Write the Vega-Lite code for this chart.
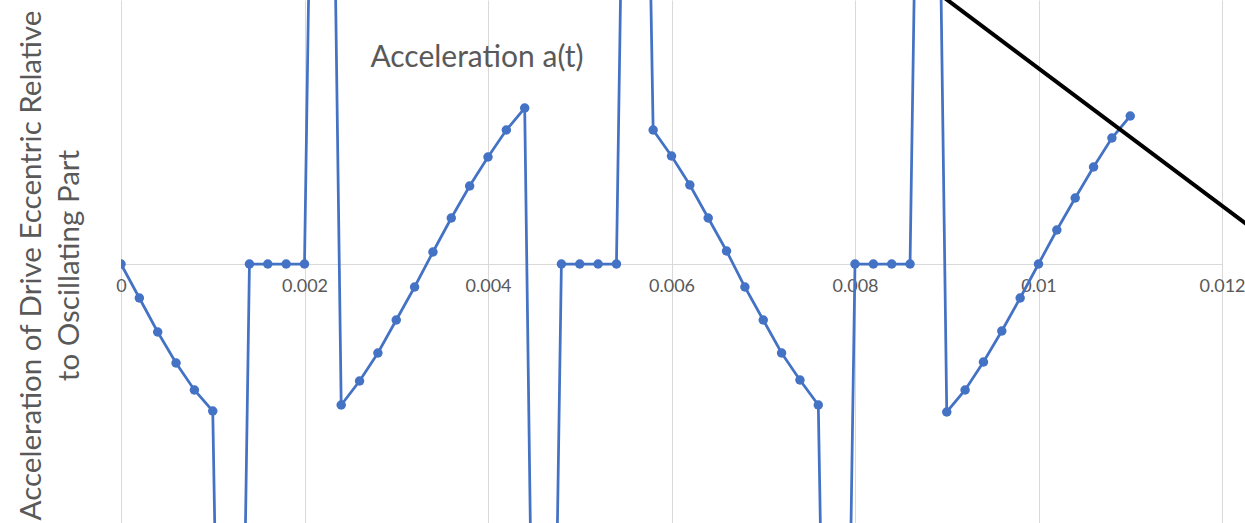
{
  "$schema": "https://vega.github.io/schema/vega-lite/v6.json",
  "width": 1101,
  "height": 523,
  "autosize": {"type": "none"},
  "padding": {"left": 121, "top": 0, "right": 23, "bottom": 0},
  "background": "white",
  "config": {"view": {"stroke": null}},
  "datasets": {
    "accel": [
      {"t": 0, "a": 0}, {"t": 0.0002, "a": -34}, {"t": 0.0004, "a": -68}, {"t": 0.0006, "a": -99},
      {"t": 0.0008, "a": -126}, {"t": 0.001, "a": -147}, {"t": 0.0012, "a": -1200}, {"t": 0.0014, "a": 0},
      {"t": 0.0016, "a": 0}, {"t": 0.0018, "a": 0}, {"t": 0.002, "a": 0}, {"t": 0.0022, "a": 1200},
      {"t": 0.0024, "a": -141}, {"t": 0.0026, "a": -117}, {"t": 0.0028, "a": -89}, {"t": 0.003, "a": -56},
      {"t": 0.0032, "a": -23}, {"t": 0.0034, "a": 12}, {"t": 0.0036, "a": 46}, {"t": 0.0038, "a": 78},
      {"t": 0.004, "a": 107}, {"t": 0.0042, "a": 134}, {"t": 0.0044, "a": 156}, {"t": 0.0046, "a": -1200},
      {"t": 0.0048, "a": 0}, {"t": 0.005, "a": 0}, {"t": 0.0052, "a": 0}, {"t": 0.0054, "a": 0},
      {"t": 0.0056, "a": 1200}, {"t": 0.0058, "a": 134}, {"t": 0.006, "a": 108}, {"t": 0.0062, "a": 79},
      {"t": 0.0064, "a": 46}, {"t": 0.0066, "a": 13}, {"t": 0.0068, "a": -23}, {"t": 0.007, "a": -56},
      {"t": 0.0072, "a": -89}, {"t": 0.0074, "a": -116}, {"t": 0.0076, "a": -141}, {"t": 0.0078, "a": -1200},
      {"t": 0.008, "a": 0}, {"t": 0.0082, "a": 0}, {"t": 0.0084, "a": 0}, {"t": 0.0086, "a": 0},
      {"t": 0.0088, "a": 1200}, {"t": 0.009, "a": -148}, {"t": 0.0092, "a": -126}, {"t": 0.0094, "a": -98},
      {"t": 0.0096, "a": -67}, {"t": 0.0098, "a": -34}, {"t": 0.01, "a": 0}, {"t": 0.0102, "a": 34},
      {"t": 0.0104, "a": 66}, {"t": 0.0106, "a": 97}, {"t": 0.0108, "a": 126}, {"t": 0.011, "a": 148}
    ],
    "slash": [
      {"t": 0.0086, "a": 292}, {"t": 0.0127, "a": 10}
    ],
    "label": [
      {"t": 0.00388, "a": 206, "text": "Acceleration a(t)"}
    ]
  },
  "layer": [
    {
      "data": {"name": "accel"},
      "mark": {"type": "line", "interpolate": "linear", "color": "#4472C4", "strokeWidth": 2.75, "clip": true},
      "encoding": {
        "x": {
          "field": "t", "type": "quantitative",
          "scale": {"domain": [0, 0.012], "nice": false, "zero": false},
          "axis": {
            "orient": "bottom", "offset": -259, "values": [0, 0.002, 0.004, 0.006, 0.008, 0.01, 0.012],
            "format": "~g", "grid": true, "gridColor": "#d9d9d9", "gridWidth": 1,
            "domainColor": "#d9d9d9", "domainWidth": 1, "ticks": false,
            "labelColor": "#595959", "labelFont": "Lato", "labelFontSize": 18, "labelPadding": 13,
            "labelFlush": false, "labelOverlap": false, "title": null
          }
        },
        "y": {
          "field": "a", "type": "quantitative",
          "scale": {"domain": [-259, 264], "nice": false, "zero": false},
          "axis": {
            "orient": "left", "labels": false, "ticks": false, "domain": false, "grid": false,
            "title": ["Acceleration of Drive Eccentric Relative", "to Oscillating Part"],
            "titleFont": "Lato", "titleFontSize": 29.5, "titleFontWeight": "normal", "titleColor": "#595959",
            "titlePadding": 37, "titleLineHeight": 38, "titleY": 265
          }
        }
      }
    },
    {
      "data": {"name": "accel"},
      "mark": {"type": "point", "filled": true, "size": 90, "color": "#4472C4", "opacity": 1, "clip": true},
      "encoding": {
        "x": {"field": "t", "type": "quantitative"},
        "y": {"field": "a", "type": "quantitative"}
      }
    },
    {
      "data": {"name": "label"},
      "mark": {"type": "text", "font": "Lato", "fontSize": 30, "color": "#595959", "align": "center", "baseline": "middle"},
      "encoding": {
        "x": {"field": "t", "type": "quantitative"},
        "y": {"field": "a", "type": "quantitative"},
        "text": {"field": "text"}
      }
    },
    {
      "data": {"name": "slash"},
      "mark": {"type": "line", "color": "black", "strokeWidth": 4, "clip": false},
      "encoding": {
        "x": {"field": "t", "type": "quantitative"},
        "y": {"field": "a", "type": "quantitative"}
      }
    }
  ]
}
